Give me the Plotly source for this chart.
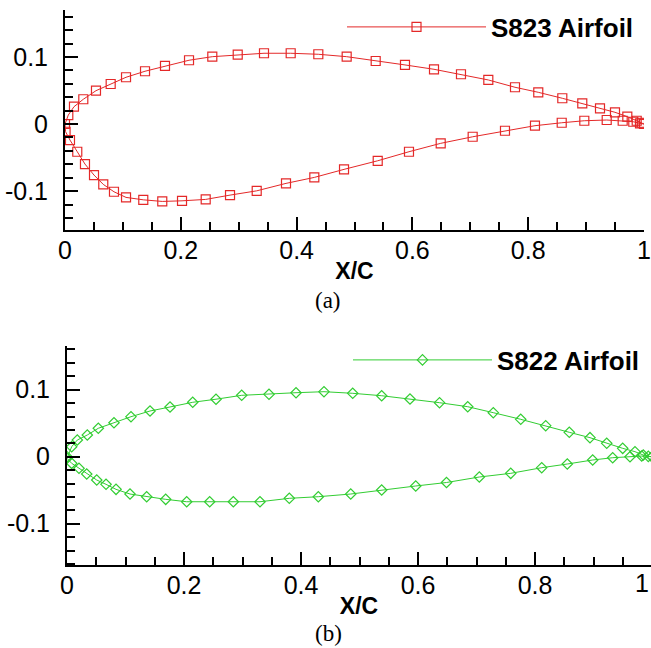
import plotly.graph_objects as go

# ---------------- data ----------------
s823_upper_x = [1.0, 0.996, 0.9874, 0.9712, 0.9499, 0.924, 0.8934, 0.8589, 0.8174, 0.7772,
                0.7311, 0.6839, 0.6373, 0.5872, 0.5366, 0.4865, 0.4375, 0.3898, 0.3437, 0.2983,
                0.2544, 0.2142, 0.1727, 0.1382, 0.1054, 0.0789, 0.0535, 0.0316, 0.0155, 0.0057, 0.0]
s823_upper_y = [0.0, 0.0019, 0.0049, 0.0109, 0.0175, 0.0234, 0.0309, 0.0384, 0.0473, 0.0548,
                0.0657, 0.0742, 0.0816, 0.0881, 0.094, 0.1004, 0.104, 0.1055, 0.1055, 0.1034,
                0.1004, 0.0951, 0.0866, 0.0787, 0.0697, 0.0597, 0.0497, 0.0369, 0.0258, 0.0134, 0.0]
s823_lower_x = [0.0, 0.001, 0.0086, 0.0212, 0.0345, 0.0501, 0.0661, 0.0846, 0.1054, 0.1352,
                0.168, 0.2021, 0.243, 0.285, 0.3311, 0.3817, 0.4306, 0.4819, 0.5401, 0.5941,
                0.6489, 0.7041, 0.7599, 0.8117, 0.8579, 0.8969, 0.9356, 0.9632, 0.9815, 0.9931, 1.0]
s823_lower_y = [0.0, -0.0115, -0.0239, -0.0413, -0.0597, -0.0761, -0.09, -0.101, -0.1094, -0.113,
                -0.1154, -0.1145, -0.1124, -0.106, -0.0996, -0.0885, -0.0796, -0.0676, -0.0548, -0.0413,
                -0.0288, -0.019, -0.01, -0.0025, 0.0019, 0.0049, 0.006, 0.0049, 0.0034, 0.001, 0.0]

s822_upper_x = [1.0, 0.9937, 0.9851, 0.9709, 0.9499, 0.9226, 0.894, 0.8586, 0.8183, 0.7756,
                0.7287, 0.685, 0.6368, 0.5863, 0.5379, 0.4884, 0.4393, 0.3915, 0.3453, 0.2986,
                0.2547, 0.2149, 0.1761, 0.1419, 0.1094, 0.0803, 0.0535, 0.0347, 0.0176, 0.008, 0.0]
s822_upper_y = [0.0, 0.0005, 0.0025, 0.0075, 0.0125, 0.02, 0.0284, 0.0364, 0.0463, 0.0558,
                0.0657, 0.0746, 0.0806, 0.0861, 0.091, 0.0946, 0.097, 0.0955, 0.0931, 0.0916,
                0.0858, 0.0812, 0.0742, 0.0682, 0.0597, 0.0507, 0.0424, 0.0324, 0.0249, 0.0149, 0.0]
s822_lower_x = [0.0, 0.008, 0.0205, 0.0337, 0.0508, 0.0667, 0.0838, 0.1077, 0.1362, 0.1687,
                0.2046, 0.2439, 0.2843, 0.3299, 0.38, 0.4296, 0.485, 0.5379, 0.5961, 0.6487,
                0.7048, 0.7585, 0.8115, 0.8552, 0.8986, 0.9328, 0.9624, 0.9824, 1.0]
s822_lower_y = [-0.0024, -0.0099, -0.0173, -0.0258, -0.0348, -0.0412, -0.0487, -0.0557, -0.0597, -0.0636,
                -0.0672, -0.0672, -0.0672, -0.0672, -0.0621, -0.0597, -0.0557, -0.0497, -0.0437, -0.0385,
                -0.0303, -0.0248, -0.0164, -0.0109, -0.0049, -0.0015, 0.0, 0.001, 0.0]

x_tick_vals = [0, 0.2, 0.4, 0.6, 0.8, 1.0]
x_tick_text = ["0", "0.2", "0.4", "0.6", "0.8", "1"]
y_tick_vals = [-0.1, 0, 0.1]
y_tick_text = ["-0.1", "0", "0.1"]

RED = "rgb(228,40,40)"
GREEN = "rgb(50,205,50)"
W, H = 651, 648

fig = go.Figure()
fig.add_trace(go.Scatter(
    x=s823_upper_x + s823_lower_x[1:], y=s823_upper_y + s823_lower_y[1:],
    mode="lines+markers", name="S823 Airfoil", showlegend=True,
    line=dict(color=RED, width=1),
    marker=dict(symbol="square-open", size=9, color=RED, line=dict(width=1.2)),
    xaxis="x", yaxis="y", legend="legend"))
fig.add_trace(go.Scatter(
    x=s822_upper_x + s822_lower_x, y=s822_upper_y + s822_lower_y,
    mode="lines+markers", name="S822 Airfoil", showlegend=True,
    line=dict(color=GREEN, width=1),
    marker=dict(symbol="diamond-open", size=8, color=GREEN, line=dict(width=1.2)),
    xaxis="x2", yaxis="y2", legend="legend2"))

FONT = "Liberation Sans, Arial, sans-serif"
tick_font = dict(family=FONT, size=25, color="black")

def xax(domain, anchor, rng):
    return dict(domain=domain, anchor=anchor, range=rng, automargin=False,
                tickvals=x_tick_vals, ticktext=x_tick_text,
                ticks="inside", ticklen=13, tickwidth=2, tickcolor="black",
                minor=dict(dtick=0.05, tick0=0, ticks="inside", ticklen=8, tickwidth=2, tickcolor="black"),
                showline=True, linecolor="black", linewidth=2, showgrid=False, zeroline=False,
                tickfont=tick_font, ticklabelstandoff=-3,
                title=dict(text="<b>X/C</b>", font=dict(family=FONT, size=23, color="black"), standoff=0))

def yax(domain, anchor, rng):
    return dict(domain=domain, anchor=anchor, range=rng, automargin=False,
                tickvals=y_tick_vals, ticktext=y_tick_text,
                ticks="inside", ticklen=13, tickwidth=2, tickcolor="black",
                minor=dict(dtick=0.02, tick0=0, ticks="inside", ticklen=8, tickwidth=2, tickcolor="black"),
                showline=True, linecolor="black", linewidth=2, showgrid=False, zeroline=False,
                tickfont=tick_font, ticklabelstandoff=10)

legend_font = dict(family=FONT, size=26, color="black", weight="bold")

fig.update_layout(
    width=W, height=H,
    margin=dict(l=0, r=0, t=0, b=0, autoexpand=False),
    paper_bgcolor="white", plot_bgcolor="white",
    xaxis=xax([65 / W, 644 / W], "y", [0, 1.0]),
    yaxis=yax([1 - 230 / H, 1 - 10 / H], "x", [-0.158, 0.170]),
    xaxis2=xax([67 / W, 1.0], "y2", [0, (W - 67) / 585]),
    yaxis2=yax([1 - 565 / H, 1 - 346 / H], "x2", [-0.1616, 0.1652]),
    legend=dict(x=342 / W, y=1 - 27 / H, xanchor="left", yanchor="middle",
                font=legend_font, bgcolor="rgba(0,0,0,0)", itemwidth=139),
    legend2=dict(x=348 / W, y=1 - 360 / H, xanchor="left", yanchor="middle",
                 font=legend_font, bgcolor="rgba(0,0,0,0)", itemwidth=139),
    annotations=[
        dict(text="(a)", x=328 / W, y=1 - 300 / H, xref="paper", yref="paper", showarrow=False,
             xanchor="center", yanchor="middle",
             font=dict(family="Liberation Serif, Times New Roman, serif", size=23, color="black")),
        dict(text="(b)", x=328 / W, y=1 - 633 / H, xref="paper", yref="paper", showarrow=False,
             xanchor="center", yanchor="middle",
             font=dict(family="Liberation Serif, Times New Roman, serif", size=23, color="black")),
        # tick label "1" of the lower panel, at the page edge as in the original
        dict(text="1", x=1.0, xref="paper", y=1 - 583 / H, yref="paper", showarrow=False,
             xanchor="right", yanchor="middle", font=tick_font),
    ],
)

fig.write_html("out.html")
